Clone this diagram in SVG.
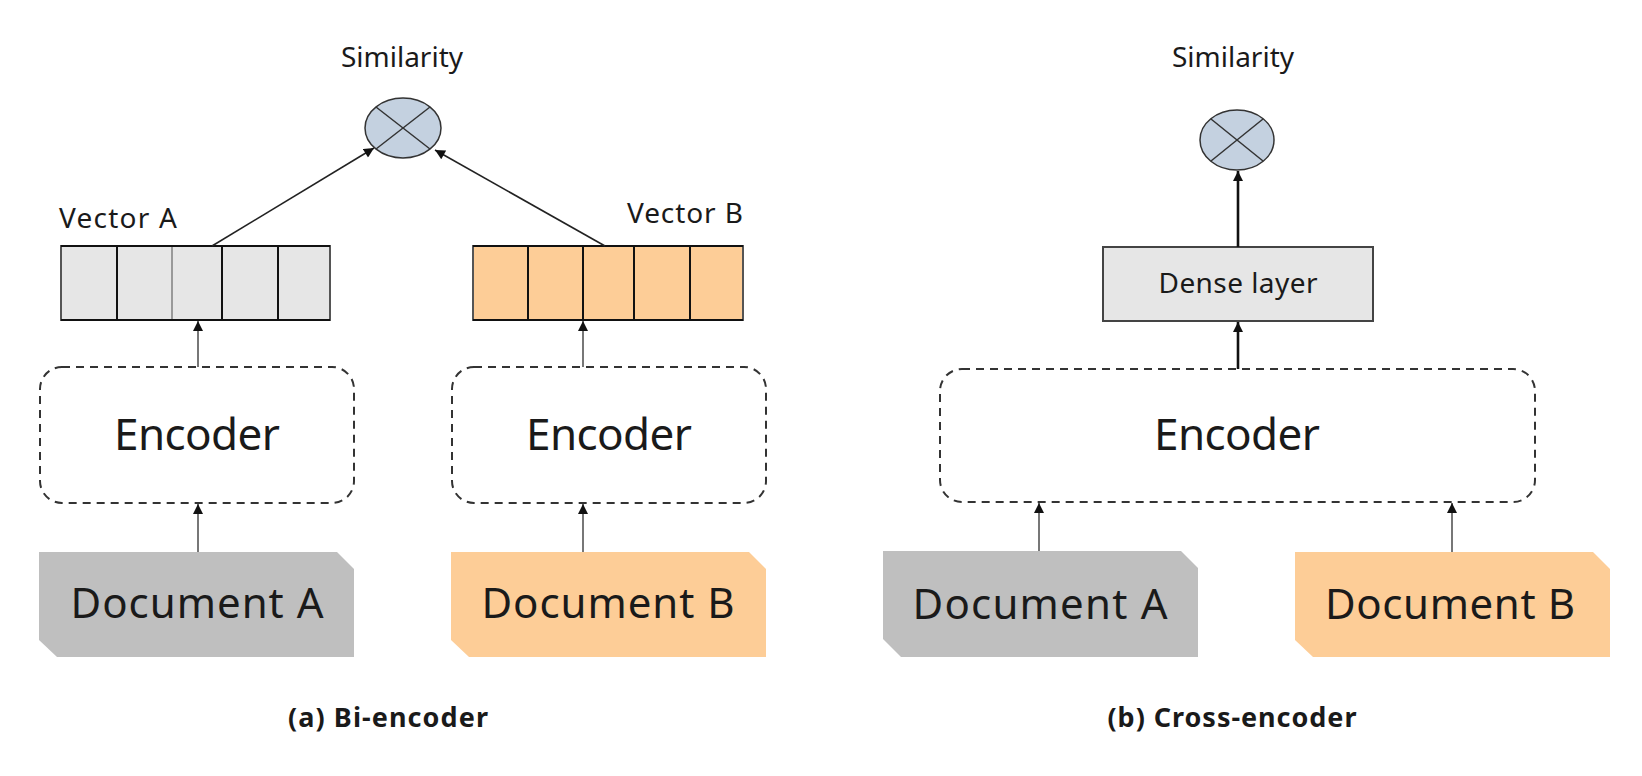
<svg xmlns="http://www.w3.org/2000/svg" width="1642" height="776" viewBox="0 0 1642 776">
<defs>
<style>
text{font-family:"Noto Sans","Open Sans","DejaVu Sans",sans-serif;fill:#1a1a1a;text-anchor:middle}
.lbl{font-size:28px}
.enc{font-size:44px}
.doc{font-size:42px}
.cap{font-size:27px;font-weight:bold}
.sim{fill:#c4d1e0;stroke:#333;stroke-width:1.5}
.x{stroke:#333;stroke-width:1.5}
.vec{stroke:#555;stroke-width:2}
.div{stroke:#111;stroke-width:2}
.encbox{fill:#fff;stroke:#333;stroke-width:2;stroke-dasharray:8 6}
.conn{stroke:#222;stroke-width:1.6;fill:none}
.conn2{stroke:#555;stroke-width:1.6;fill:none}
.thick{stroke:#111;stroke-width:2.6;fill:none}
</style>
<marker id="ah" viewBox="0 0 10 10" refX="10" refY="5" markerWidth="11" markerHeight="10" markerUnits="userSpaceOnUse" orient="auto"><path d="M0,0 L10,5 L0,10 z" fill="#111"/></marker>
</defs>
<rect width="1642" height="776" fill="#fff"/>

<!-- Bi-encoder -->
<g id="sim-a">
<text class="lbl" x="402" y="67">Similarity</text>
<ellipse class="sim" cx="403" cy="128" rx="38" ry="30"/>
<line class="x" x1="376" y1="107" x2="430" y2="149"/>
<line class="x" x1="430" y1="107" x2="376" y2="149"/>
</g>
<g id="vector-a">
<text class="lbl" x="118" y="228" textLength="118">Vector A</text>
<rect class="vec" x="61" y="246" width="269" height="74" fill="#e6e6e6"/>
<line class="div" x1="117" y1="246" x2="117" y2="320"/>
<line x1="172" y1="246" x2="172" y2="320" stroke="#999" stroke-width="2"/>
<line class="div" x1="222" y1="246" x2="222" y2="320"/>
<line class="div" x1="278" y1="246" x2="278" y2="320"/>
<line class="div" x1="61" y1="246" x2="330" y2="246"/>
<line class="div" x1="61" y1="320" x2="330" y2="320"/>
</g>
<g id="vector-b">
<text class="lbl" x="685" y="223" textLength="116">Vector B</text>
<rect class="vec" x="473" y="246" width="270" height="74" fill="#fdcd97"/>
<line class="div" x1="528" y1="246" x2="528" y2="320"/>
<line class="div" x1="583" y1="246" x2="583" y2="320"/>
<line class="div" x1="634" y1="246" x2="634" y2="320"/>
<line class="div" x1="690" y1="246" x2="690" y2="320"/>
<line class="div" x1="473" y1="246" x2="743" y2="246"/>
<line class="div" x1="473" y1="320" x2="743" y2="320"/>
</g>
<g id="encoder-a">
<rect class="encbox" x="40" y="367" width="314" height="136" rx="22"/>
<text class="enc" x="197" y="450" textLength="166">Encoder</text>
</g>
<g id="encoder-b">
<rect class="encbox" x="452" y="367" width="314" height="136" rx="22"/>
<text class="enc" x="609" y="450" textLength="166">Encoder</text>
</g>
<g id="doc-a">
<path d="M39,552 L337,552 L354,569 L354,657 L57,657 L39,640 Z" fill="#bfbfbf"/>
<text class="doc" x="197" y="618" textLength="253">Document A</text>
</g>
<g id="doc-b">
<path d="M451,552 L749,552 L766,569 L766,657 L469,657 L451,640 Z" fill="#fdcd97"/>
<text class="doc" x="608" y="618" textLength="253">Document B</text>
</g>
<text class="cap" x="388" y="727" textLength="200">(a) Bi-encoder</text>

<!-- Cross-encoder -->
<g id="sim-b">
<text class="lbl" x="1233" y="67">Similarity</text>
<ellipse class="sim" cx="1237" cy="140" rx="37" ry="30"/>
<line class="x" x1="1211" y1="119" x2="1263" y2="161"/>
<line class="x" x1="1263" y1="119" x2="1211" y2="161"/>
</g>
<g id="dense">
<rect x="1103" y="247" width="270" height="74" fill="#e6e6e6" stroke="#444" stroke-width="2"/>
<text class="lbl" x="1238" y="293" textLength="159">Dense layer</text>
</g>
<g id="encoder-c">
<rect class="encbox" x="940" y="369" width="595" height="133" rx="22"/>
<text class="enc" x="1237" y="450" textLength="166">Encoder</text>
</g>
<g id="doc-c">
<path d="M883,551 L1181,551 L1198,568 L1198,657 L901,657 L883,639 Z" fill="#bfbfbf"/>
<text class="doc" x="1040" y="619" textLength="255">Document A</text>
</g>
<g id="doc-d">
<path d="M1295,552 L1593,552 L1610,569 L1610,657 L1313,657 L1295,640 Z" fill="#fdcd97"/>
<text class="doc" x="1450" y="619" textLength="250">Document B</text>
</g>
<text class="cap" x="1232" y="727" textLength="249">(b) Cross-encoder</text>

<g id="connectors">
<line class="conn" x1="212" y1="246" x2="374" y2="148" marker-end="url(#ah)"/>
<line class="conn" x1="605" y1="246" x2="435" y2="150" marker-end="url(#ah)"/>
<line class="conn2" x1="198" y1="367" x2="198" y2="321" marker-end="url(#ah)"/>
<line class="conn2" x1="198" y1="552" x2="198" y2="504" marker-end="url(#ah)"/>
<line class="conn2" x1="583" y1="367" x2="583" y2="321" marker-end="url(#ah)"/>
<line class="conn2" x1="583" y1="552" x2="583" y2="504" marker-end="url(#ah)"/>
<line class="thick" x1="1238" y1="247" x2="1238" y2="171" marker-end="url(#ah)"/>
<line class="thick" x1="1238" y1="369" x2="1238" y2="322" marker-end="url(#ah)"/>
<line class="conn2" x1="1039" y1="551" x2="1039" y2="503" marker-end="url(#ah)"/>
<line class="conn2" x1="1452" y1="552" x2="1452" y2="503" marker-end="url(#ah)"/>
</g>
</svg>
